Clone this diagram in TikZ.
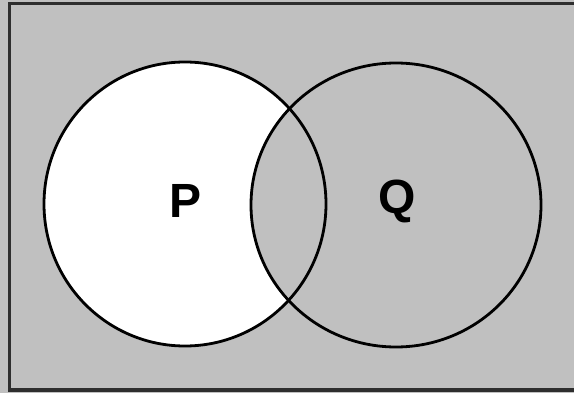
\documentclass[tikz,border=0pt]{standalone}
\usepackage{fontspec}
\setmainfont{Liberation Sans}
\definecolor{bggray}{HTML}{C0C0C0}
\definecolor{framegray}{HTML}{2E2E2E}
\begin{document}
\begin{tikzpicture}[x=1pt,y=-1pt,
  setline/.style={line width=2.8pt,draw=black},
  setlabel/.style={font=\bfseries\fontsize{48}{48}\selectfont,inner sep=0pt}]
\useasboundingbox (0,0) rectangle (574,393);
\clip (0,0) rectangle (574,393);
\fill[bggray] (-6,-6) rectangle (582,400);
\draw[framegray,line width=3.5pt,line cap=butt] (582,3.5) -- (9.5,3.5) -- (9.5,390) -- (582,390);
\fill[white] (185,204) ellipse [x radius=141,y radius=142];
\fill[bggray] (396,205) ellipse [x radius=145,y radius=142];
\draw[setline] (185,204) ellipse [x radius=141,y radius=142];
\draw[setline] (396,205) ellipse [x radius=145,y radius=142];
\node[setlabel] (p) at (186,201) {P};
\node[setlabel] (q) at (397,201) {Q};
\end{tikzpicture}
\end{document}
